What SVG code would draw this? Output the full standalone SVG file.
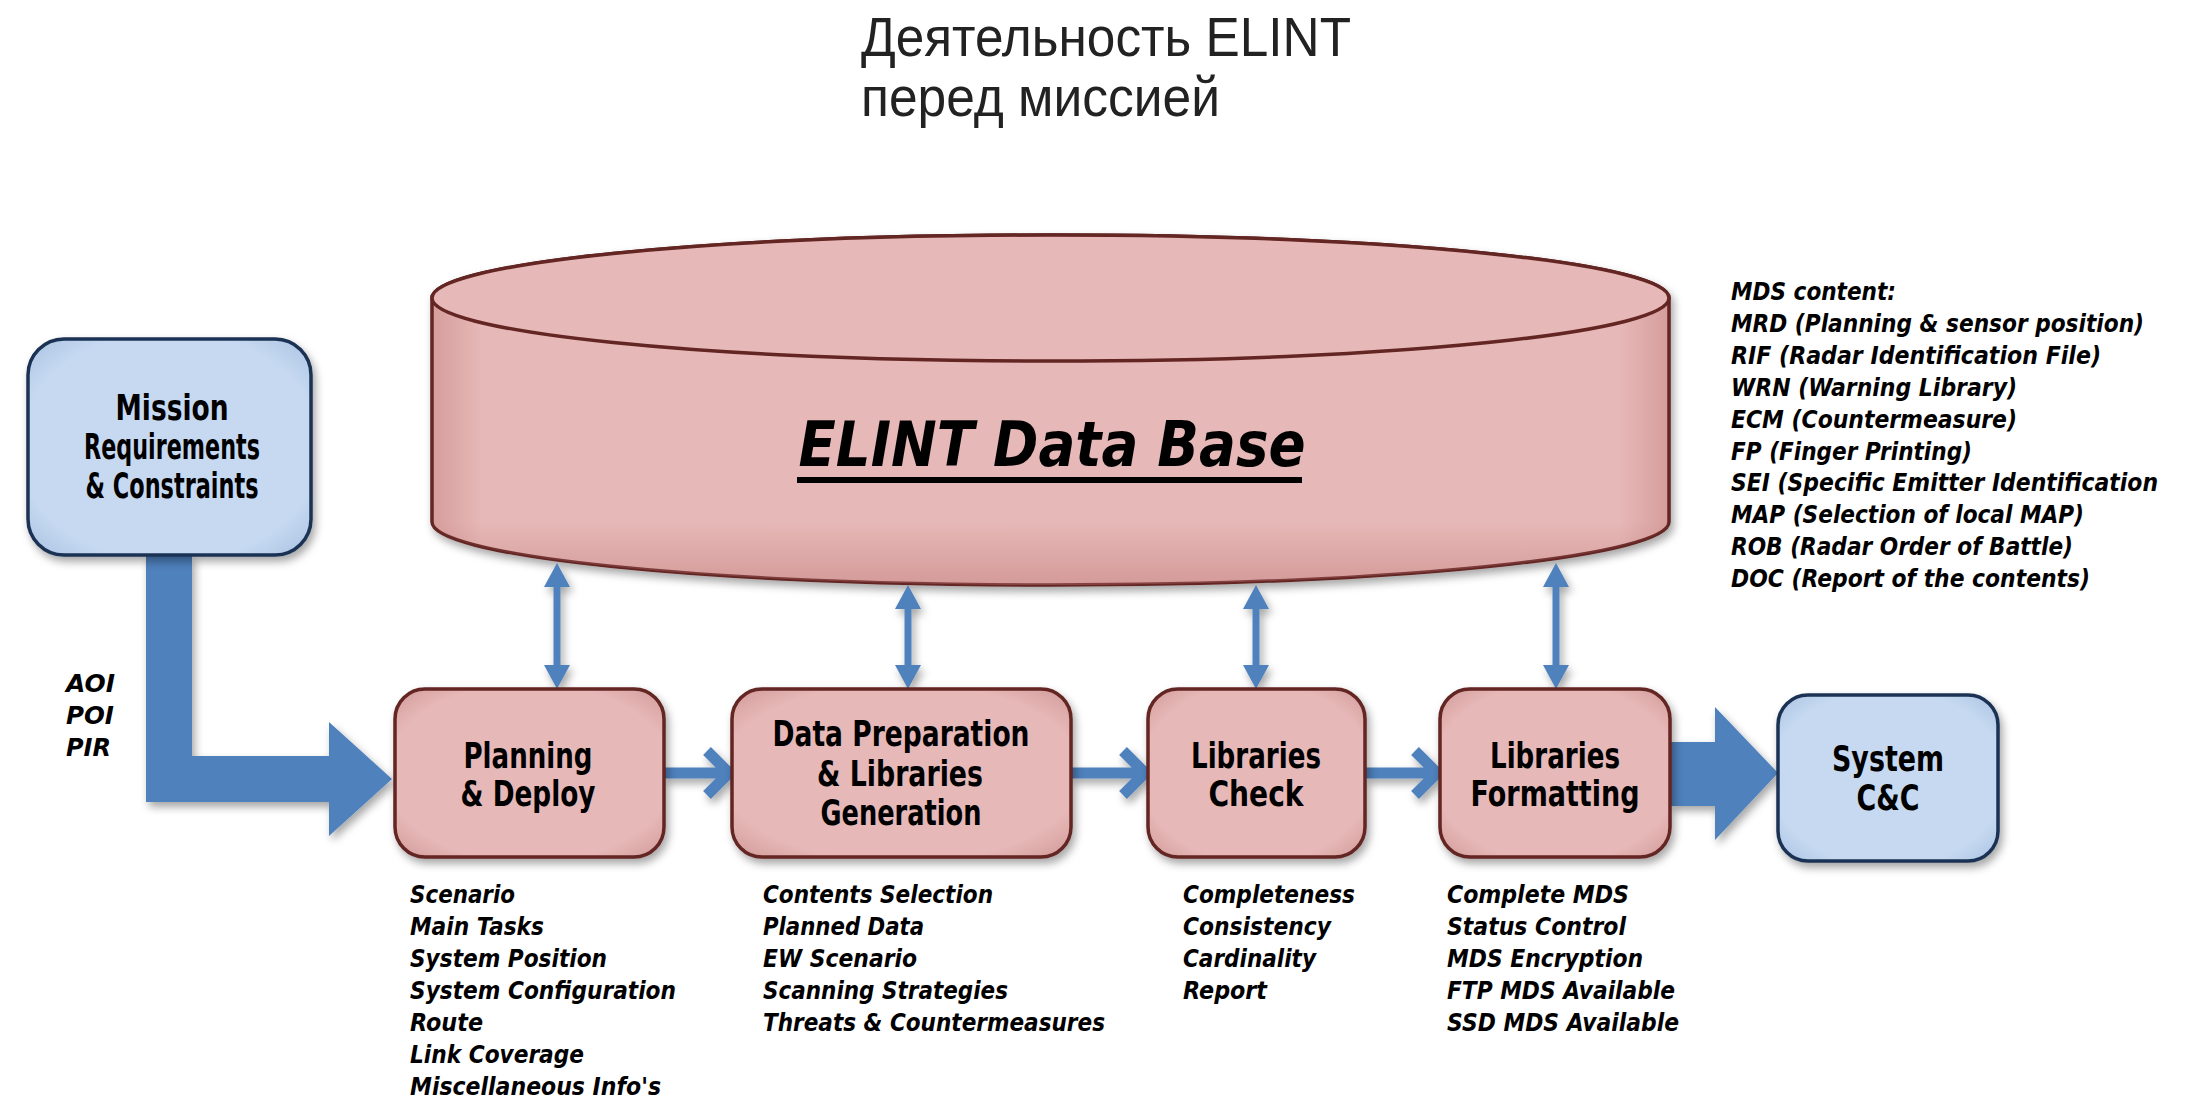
<svg xmlns="http://www.w3.org/2000/svg" width="2196" height="1100" viewBox="0 0 2196 1100">
<defs>
  <radialGradient id="gPink" cx="0.5" cy="0.5" r="0.72">
    <stop offset="0" stop-color="#e6b8b7"/>
    <stop offset="0.74" stop-color="#e6b8b7"/>
    <stop offset="1" stop-color="#cf9796"/>
  </radialGradient>
  <radialGradient id="gBlue" cx="0.5" cy="0.5" r="0.72">
    <stop offset="0" stop-color="#c6d9f1"/>
    <stop offset="0.74" stop-color="#c6d9f1"/>
    <stop offset="1" stop-color="#a6bfdf"/>
  </radialGradient>
  <linearGradient id="gCyl" x1="0" y1="0" x2="1" y2="0">
    <stop offset="0" stop-color="#d59d9c"/>
    <stop offset="0.04" stop-color="#e6b8b7"/>
    <stop offset="0.96" stop-color="#e6b8b7"/>
    <stop offset="1" stop-color="#d59d9c"/>
  </linearGradient>
  <linearGradient id="gCylV" x1="0" y1="0" x2="0" y2="1">
    <stop offset="0" stop-color="#b86e6d" stop-opacity="0"/>
    <stop offset="0.82" stop-color="#b86e6d" stop-opacity="0"/>
    <stop offset="1" stop-color="#b86e6d" stop-opacity="0.4"/>
  </linearGradient>
  <filter id="shadow" x="-10%" y="-10%" width="125%" height="130%">
    <feDropShadow dx="3" dy="5" stdDeviation="4" flood-color="#000" flood-opacity="0.35"/>
  </filter>
  <marker id="head" markerUnits="userSpaceOnUse" markerWidth="24" markerHeight="26" viewBox="0 0 24 26" refX="0" refY="13" orient="auto-start-reverse">
    <path d="M0,0 L24,13 L0,26 Z" fill="#4f81bd"/>
  </marker>
  <style>
    .pink { fill: url(#gPink); stroke: #632523; stroke-width: 3.5; }
    .blue { fill: url(#gBlue); stroke: #1a3354; stroke-width: 3.5; }
    .lbl { font-family: "DejaVu Sans", Verdana, sans-serif; font-weight: bold; font-size: 35px; fill: #000; text-anchor: middle; }
    .item { font-family: "DejaVu Sans", Verdana, sans-serif; font-weight: bold; font-style: italic; font-size: 25px; fill: #000; }
    .mds { font-family: "DejaVu Sans", Verdana, sans-serif; font-weight: bold; font-style: italic; font-size: 24px; fill: #000; }
    .title { font-family: "Liberation Sans", Arial, sans-serif; font-size: 55px; fill: #222; }
    .dbl { stroke: #4f81bd; stroke-width: 7; fill: none; marker-start: url(#head); marker-end: url(#head); }
    .small { stroke: #4f81bd; stroke-width: 11; fill: none; stroke-linejoin: miter; }
    .big { fill: #4f81bd; }
  </style>
</defs>
<rect width="2196" height="1100" fill="#ffffff"/>

<g id="title">
  <text class="title" x="861" y="56" textLength="490" lengthAdjust="spacingAndGlyphs">Деятельность ELINT</text>
  <text class="title" x="861" y="116" textLength="359" lengthAdjust="spacingAndGlyphs">перед миссией</text>
</g>

<g id="elint-db" filter="url(#shadow)">
  <path d="M432,298 L432,522 A618.5,63 0 0 0 1669,522 L1669,298 A618.5,63 0 0 0 432,298 Z" fill="url(#gCyl)" stroke="#632523" stroke-width="3.5"/>
  <path d="M432,298 L432,522 A618.5,63 0 0 0 1669,522 L1669,298 A618.5,63 0 0 0 432,298 Z" fill="url(#gCylV)" stroke="none"/>
  <ellipse cx="1050.5" cy="298" rx="618.5" ry="63" fill="#e6b8b7" stroke="#632523" stroke-width="3.5"/>
</g>
<g id="elint-db-label">
  <text x="1052" y="466" font-family="'DejaVu Sans', Verdana, sans-serif" font-weight="bold" font-style="italic" font-size="62" text-anchor="middle" textLength="507" lengthAdjust="spacingAndGlyphs">ELINT Data Base</text>
  <rect x="797" y="477" width="505" height="6" fill="#000"/>
</g>

<g id="connectors">
  <g filter="url(#shadow)">
    <path class="big" d="M146,555 H192 V756 H329 V722 L392,779 L329,836 V802 H146 Z"/>
    <path class="big" d="M1670,742 H1715 V707 L1778,773 L1715,840 V806 H1670 Z"/>
    <path class="small" d="M664,773 H726 M707,751 L729,773 L707,795"/>
    <path class="small" d="M1071,773 H1142 M1123,751 L1145,773 L1123,795"/>
    <path class="small" d="M1365,773 H1434 M1415,751 L1437,773 L1415,795"/>
    <line class="dbl" x1="557" y1="587" x2="557" y2="665"/>
    <line class="dbl" x1="908" y1="609" x2="908" y2="665"/>
    <line class="dbl" x1="1256" y1="609" x2="1256" y2="665"/>
    <line class="dbl" x1="1556" y1="587" x2="1556" y2="665"/>
  </g>
  <text class="item" x="66" y="692" textLength="49" lengthAdjust="spacingAndGlyphs">AOI</text>
  <text class="item" x="66" y="724" textLength="48" lengthAdjust="spacingAndGlyphs">POI</text>
  <text class="item" x="66" y="756" textLength="45" lengthAdjust="spacingAndGlyphs">PIR</text>
</g>

<g id="mission">
  <rect class="blue" x="28" y="339" width="283" height="216" rx="36" filter="url(#shadow)"/>
  <text class="lbl" x="172" y="420" textLength="113" lengthAdjust="spacingAndGlyphs">Mission</text>
  <text class="lbl" x="172" y="459" textLength="176" lengthAdjust="spacingAndGlyphs">Requirements</text>
  <text class="lbl" x="172" y="498" textLength="173" lengthAdjust="spacingAndGlyphs">&amp; Constraints</text>
</g>

<g id="planning">
  <rect class="pink" x="395" y="689" width="269" height="168" rx="30" filter="url(#shadow)"/>
  <text class="lbl" x="528" y="768" textLength="129" lengthAdjust="spacingAndGlyphs">Planning</text>
  <text class="lbl" x="528" y="806" textLength="135" lengthAdjust="spacingAndGlyphs">&amp; Deploy</text>
  <text class="item" x="410" y="903" textLength="105" lengthAdjust="spacingAndGlyphs">Scenario</text>
  <text class="item" x="410" y="935" textLength="134" lengthAdjust="spacingAndGlyphs">Main Tasks</text>
  <text class="item" x="410" y="967" textLength="197" lengthAdjust="spacingAndGlyphs">System Position</text>
  <text class="item" x="410" y="999" textLength="266" lengthAdjust="spacingAndGlyphs">System Configuration</text>
  <text class="item" x="410" y="1031" textLength="73" lengthAdjust="spacingAndGlyphs">Route</text>
  <text class="item" x="410" y="1063" textLength="174" lengthAdjust="spacingAndGlyphs">Link Coverage</text>
  <text class="item" x="410" y="1095" textLength="251" lengthAdjust="spacingAndGlyphs">Miscellaneous Info's</text>
</g>

<g id="data-prep">
  <rect class="pink" x="732" y="689" width="339" height="168" rx="30" filter="url(#shadow)"/>
  <text class="lbl" x="901" y="746" font-size="34" textLength="257" lengthAdjust="spacingAndGlyphs">Data Preparation</text>
  <text class="lbl" x="900" y="786" font-size="34" textLength="166" lengthAdjust="spacingAndGlyphs">&amp; Libraries</text>
  <text class="lbl" x="901" y="825" font-size="34" textLength="161" lengthAdjust="spacingAndGlyphs">Generation</text>
  <text class="item" x="763" y="903" textLength="230" lengthAdjust="spacingAndGlyphs">Contents Selection</text>
  <text class="item" x="763" y="935" textLength="161" lengthAdjust="spacingAndGlyphs">Planned Data</text>
  <text class="item" x="763" y="967" textLength="154" lengthAdjust="spacingAndGlyphs">EW Scenario</text>
  <text class="item" x="763" y="999" textLength="245" lengthAdjust="spacingAndGlyphs">Scanning Strategies</text>
  <text class="item" x="763" y="1031" textLength="342" lengthAdjust="spacingAndGlyphs">Threats &amp; Countermeasures</text>
</g>

<g id="lib-check">
  <rect class="pink" x="1148" y="689" width="217" height="168" rx="30" filter="url(#shadow)"/>
  <text class="lbl" x="1256" y="768" textLength="130" lengthAdjust="spacingAndGlyphs">Libraries</text>
  <text class="lbl" x="1256" y="806" textLength="95" lengthAdjust="spacingAndGlyphs">Check</text>
  <text class="item" x="1183" y="903" textLength="172" lengthAdjust="spacingAndGlyphs">Completeness</text>
  <text class="item" x="1183" y="935" textLength="148" lengthAdjust="spacingAndGlyphs">Consistency</text>
  <text class="item" x="1183" y="967" textLength="133" lengthAdjust="spacingAndGlyphs">Cardinality</text>
  <text class="item" x="1183" y="999" textLength="84" lengthAdjust="spacingAndGlyphs">Report</text>
</g>

<g id="lib-format">
  <rect class="pink" x="1440" y="689" width="230" height="168" rx="30" filter="url(#shadow)"/>
  <text class="lbl" x="1555" y="768" textLength="130" lengthAdjust="spacingAndGlyphs">Libraries</text>
  <text class="lbl" x="1555" y="806" textLength="169" lengthAdjust="spacingAndGlyphs">Formatting</text>
  <text class="item" x="1447" y="903" textLength="182" lengthAdjust="spacingAndGlyphs">Complete MDS</text>
  <text class="item" x="1447" y="935" textLength="179" lengthAdjust="spacingAndGlyphs">Status Control</text>
  <text class="item" x="1447" y="967" textLength="196" lengthAdjust="spacingAndGlyphs">MDS Encryption</text>
  <text class="item" x="1447" y="999" textLength="228" lengthAdjust="spacingAndGlyphs">FTP MDS Available</text>
  <text class="item" x="1447" y="1031" textLength="232" lengthAdjust="spacingAndGlyphs">SSD MDS Available</text>
</g>

<g id="system-cc">
  <rect class="blue" x="1778" y="695" width="220" height="166" rx="30" filter="url(#shadow)"/>
  <text class="lbl" x="1888" y="771" textLength="112" lengthAdjust="spacingAndGlyphs">System</text>
  <text class="lbl" x="1888" y="810" textLength="63" lengthAdjust="spacingAndGlyphs">C&amp;C</text>
</g>

<g id="mds-content">
  <text class="mds" x="1731" y="300" textLength="165" lengthAdjust="spacingAndGlyphs">MDS content:</text>
  <text class="mds" x="1731" y="332" textLength="413" lengthAdjust="spacingAndGlyphs">MRD (Planning &amp; sensor position)</text>
  <text class="mds" x="1731" y="364" textLength="370" lengthAdjust="spacingAndGlyphs">RIF (Radar Identification File)</text>
  <text class="mds" x="1731" y="396" textLength="286" lengthAdjust="spacingAndGlyphs">WRN (Warning Library)</text>
  <text class="mds" x="1731" y="428" textLength="286" lengthAdjust="spacingAndGlyphs">ECM (Countermeasure)</text>
  <text class="mds" x="1731" y="460" textLength="241" lengthAdjust="spacingAndGlyphs">FP (Finger Printing)</text>
  <text class="mds" x="1731" y="491" textLength="427" lengthAdjust="spacingAndGlyphs">SEI (Specific Emitter Identification</text>
  <text class="mds" x="1731" y="523" textLength="353" lengthAdjust="spacingAndGlyphs">MAP (Selection of local MAP)</text>
  <text class="mds" x="1731" y="555" textLength="342" lengthAdjust="spacingAndGlyphs">ROB (Radar Order of Battle)</text>
  <text class="mds" x="1731" y="587" textLength="359" lengthAdjust="spacingAndGlyphs">DOC (Report of the contents)</text>
</g>
</svg>
